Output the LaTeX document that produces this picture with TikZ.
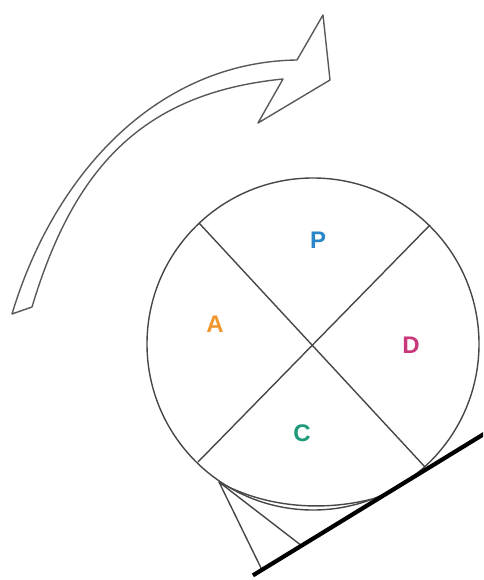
\documentclass[tikz,border=0pt]{standalone}
\usepackage{fontspec}
\setmainfont{Liberation Sans}
\definecolor{pblue}{HTML}{2A86C8}
\definecolor{aorange}{HTML}{F0962E}
\definecolor{dmag}{HTML}{C8387A}
\definecolor{cgreen}{HTML}{1E9A7A}
\begin{document}
\begin{tikzpicture}[x=1pt,y=-1pt,line join=round,
  wheel/.style={draw=black!72,line width=1.4pt},
  arrowline/.style={draw=black!65,line width=1.4pt},
  lbl/.style={font=\bfseries\fontsize{24}{24}\selectfont,inner sep=0pt},
  slope/.style={draw=black,line width=4.2pt}]
\useasboundingbox (0,0) rectangle (483,580);
\clip (0,0) rectangle (483,580);
% curved arrow
\draw[arrowline] (12,314) .. controls (54,174) and (157,62) .. (297,60)
  -- (323,15) -- (330,80) -- (258,123) -- (283,79)
  .. controls (143,93) and (74,167) .. (32,307) -- cycle;
% wheel
\coordinate (O) at (313,344);
\draw[wheel] (O) circle[radius=166];
\coordinate (a1) at (199,223);
\coordinate (a2) at (425,467);
\coordinate (b1) at (430,225);
\coordinate (b2) at (198,462);
\draw[wheel] (a1) -- (a2);
\draw[wheel] (b1) -- (b2);
\node[lbl,text=pblue] (P) at (318,240) {P};
\node[lbl,text=aorange] (A) at (215,324) {A};
\node[lbl,text=dmag] (D) at (411,345) {D};
\node[lbl,text=cgreen] (C) at (302,433) {C};
% wedge
\coordinate (V) at (219,482);
\coordinate (w1) at (262,570);
\coordinate (w2) at (302,546);
\coordinate (w3) at (372,499);
\draw[wheel] (w1) -- (V) -- (w2);
\draw[wheel] (V) .. controls (264,507) and (321,512) .. (w3);
% slope
\coordinate (s0) at (252.9,575.4);
\coordinate (s1) at (490,430.3);
\draw[slope] (s0) -- (s1);
\end{tikzpicture}
\end{document}
